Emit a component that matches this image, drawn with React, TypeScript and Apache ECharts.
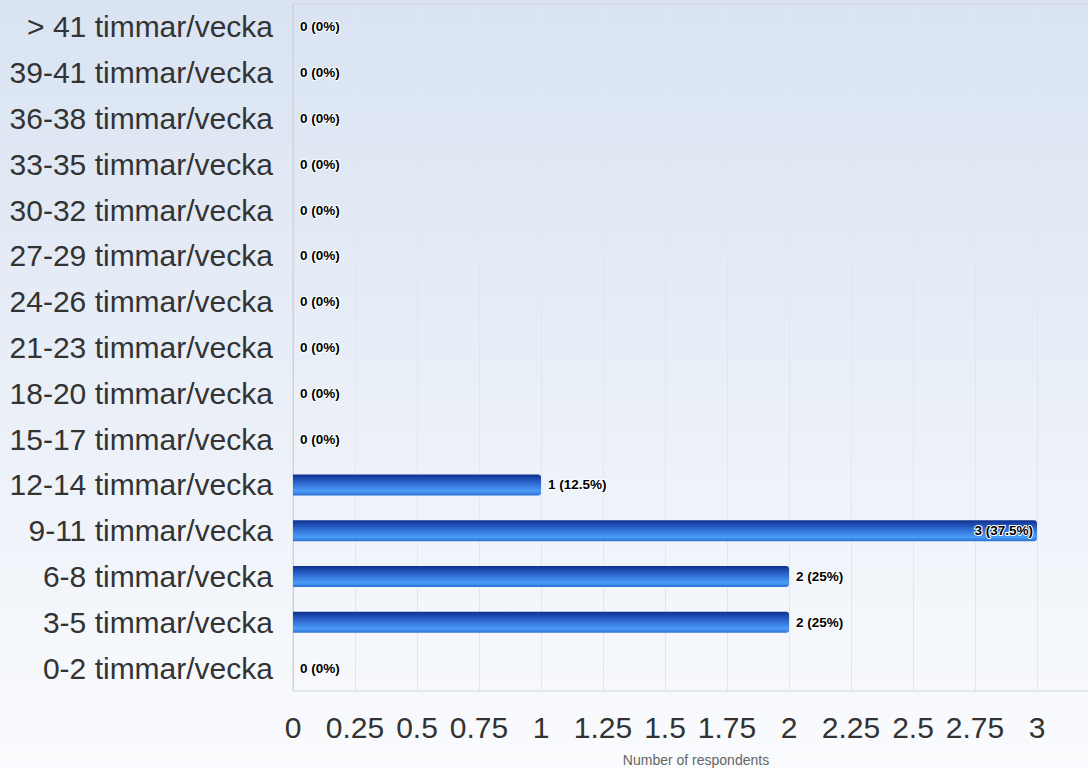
import React, { useEffect, useRef } from "react";
import * as echarts from "echarts";

const categories = [
  "0-2 timmar/vecka",
  "3-5 timmar/vecka",
  "6-8 timmar/vecka",
  "9-11 timmar/vecka",
  "12-14 timmar/vecka",
  "15-17 timmar/vecka",
  "18-20 timmar/vecka",
  "21-23 timmar/vecka",
  "24-26 timmar/vecka",
  "27-29 timmar/vecka",
  "30-32 timmar/vecka",
  "33-35 timmar/vecka",
  "36-38 timmar/vecka",
  "39-41 timmar/vecka",
  "> 41 timmar/vecka",
];
const counts = [0, 2, 2, 3, 1, 0, 0, 0, 0, 0, 0, 0, 0, 0, 0];
const axisTitle = "Number of respondents";

export default function App() {
  const ref = useRef<HTMLDivElement>(null);
  useEffect(() => {
    if (!ref.current) return;
    const chart = echarts.init(ref.current, null, { renderer: "svg" });
    const total = counts.reduce((a, b) => a + b, 0);
    const maxVal = Math.max(...counts);
    const fmtPct = (v: number) => {
      const p = total ? (v / total) * 100 : 0;
      return `${v} (${parseFloat(p.toFixed(1))}%)`;
    };
    const data = counts.map((v) => ({
      value: v,
      label: {
        show: true,
        position: v === maxVal ? "insideRight" : "right",
        distance: v === maxVal ? 4 : 7,
        formatter: fmtPct(v),
        fontFamily: "Liberation Sans, Arial, sans-serif",
        fontSize: 13.5,
        fontWeight: "bold",
        color: "#000",
        textBorderColor: "#fff",
        textBorderWidth: 2,
        padding: [3, 0, 0, 0],
      },
    }));
    chart.setOption({
      animation: false,
      backgroundColor: {
        type: "linear",
        x: 0,
        y: 0,
        x2: 0,
        y2: 1,
        colorStops: [
          { offset: 0, color: "#d9e3f2" },
          { offset: 1, color: "#fafbfd" },
        ],
      },
      textStyle: { fontFamily: "Liberation Sans, Arial, sans-serif" },
      grid: {
        left: 293,
        right: -11,
        top: 4,
        bottom: 78,
        outerBoundsMode: "none",
        containLabel: false,
        show: true,
        borderColor: "#d0d4da",
        borderWidth: 1,
        backgroundColor: "transparent",
      },
      xAxis: {
        type: "value",
        min: 0,
        max: 3.25,
        interval: 0.25,
        name: axisTitle,
        nameLocation: "middle",
        nameGap: 62,
        nameTextStyle: { fontSize: 14, color: "#666" },
        axisLine: { show: false },
        axisTick: { show: false },
        axisLabel: {
          fontSize: 30,
          color: "#333",
          margin: 21,
          formatter: (v: number) => (v >= 3.2 ? "" : String(v)),
        },
        splitLine: { show: true, lineStyle: { color: "#e4e6ea", width: 1 } },
      },
      yAxis: {
        type: "category",
        data: categories,
        axisLine: { show: true, lineStyle: { color: "#d0d4da" } },
        axisTick: { show: false },
        axisLabel: { fontSize: 30, color: "#333", margin: 20, padding: [5, 0, 0, 0] },
        splitLine: { show: false },
      },
      series: [
        {
          type: "bar",
          data,
          barWidth: 21,
          itemStyle: {
            borderRadius: [0, 3, 3, 0],
            color: {
              type: "linear",
              x: 0,
              y: 0,
              x2: 0,
              y2: 1,
              colorStops: [
                { offset: 0, color: "#0d2f8c" },
                { offset: 0.35, color: "#2a60c8" },
                { offset: 0.8, color: "#4a9cf7" },
                { offset: 1, color: "#2c6fd6" },
              ],
            },
          },
        },
      ],
    });
    return () => chart.dispose();
  }, []);
  return (
    <div
      ref={ref}
      style={{ position: "fixed", left: 0, top: 0, width: 1088, height: 769 }}
    />
  );
}
